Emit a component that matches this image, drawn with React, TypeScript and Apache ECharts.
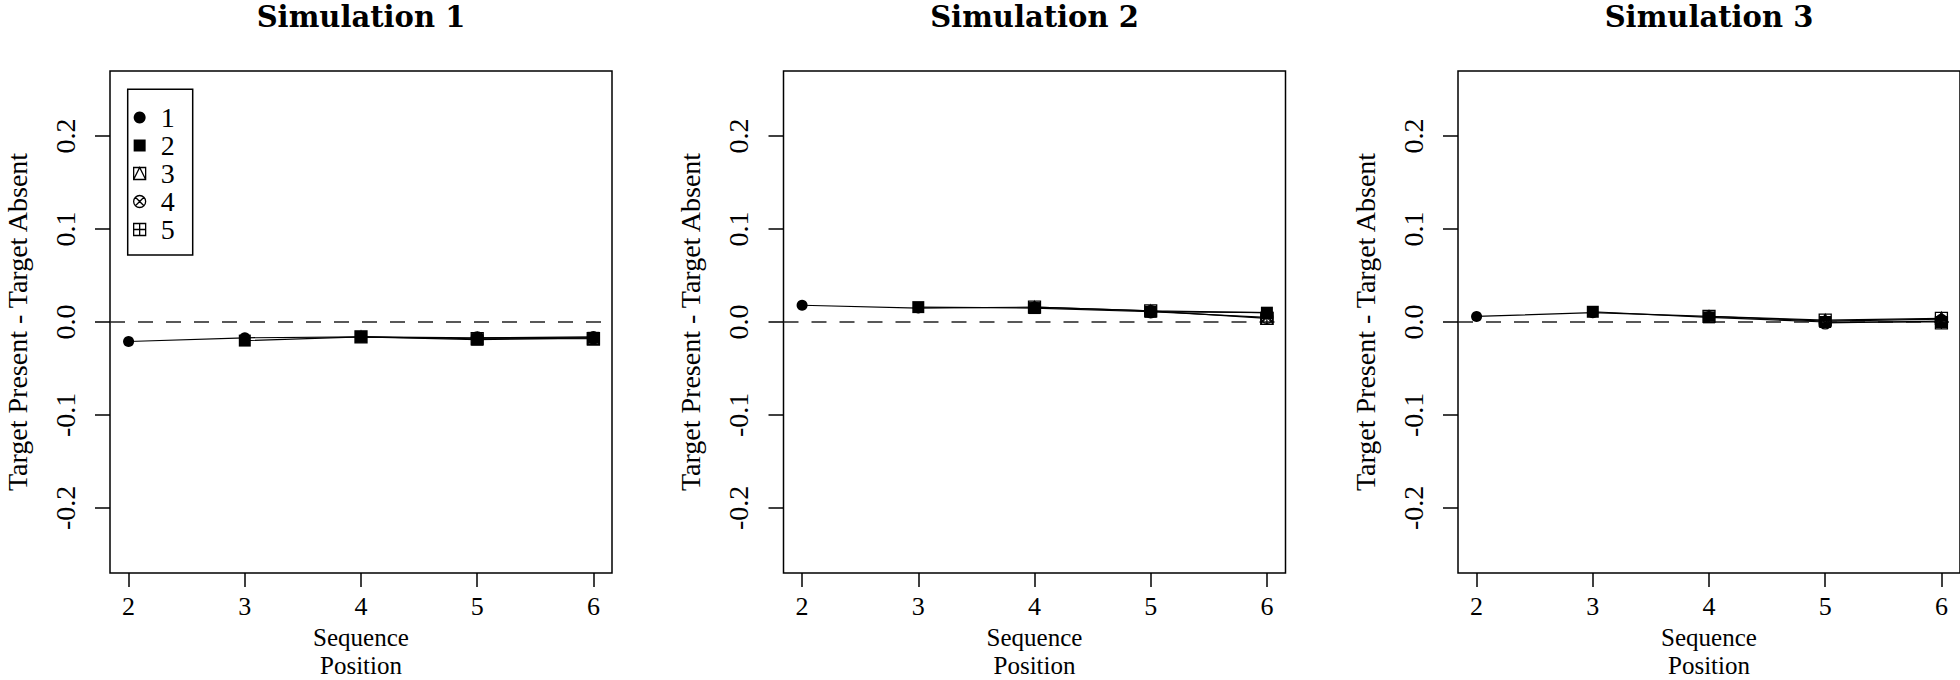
import React, { useEffect, useRef } from "react";
import * as echarts from "echarts";

// ---- data ----
const positions = [2, 3, 4, 5, 6];
const seriesNames = ["1", "2", "3", "4", "5"];
const titles = ["Simulation 1", "Simulation 2", "Simulation 3"];
const yTicks = [-0.2, -0.1, 0.0, 0.1, 0.2];
const xTicks = [2, 3, 4, 5, 6];

// each row: one series (lag), values at positions 2..6 (null = not present)
const sim1 = [
  [-0.021, -0.017, -0.016, -0.017, -0.016],
  [null, -0.02, -0.016, -0.019, -0.017],
  [null, null, -0.016, -0.018, -0.018],
  [null, null, null, -0.017, -0.017],
  [null, null, null, null, -0.018],
];
const sim2 = [
  [0.018, 0.015, 0.016, 0.012, 0.01],
  [null, 0.016, 0.015, 0.011, 0.01],
  [null, null, 0.016, 0.012, 0.004],
  [null, null, null, 0.011, 0.005],
  [null, null, null, null, 0.004],
];
const sim3 = [
  [0.006, 0.01, 0.006, 0.001, 0.003],
  [null, 0.011, 0.005, 0.0, 0.0],
  [null, null, 0.006, 0.002, 0.004],
  [null, null, null, -0.001, 0.001],
  [null, null, null, null, -0.001],
];
const sims = [sim1, sim2, sim3];

// ---- styling ----
const FONT = "Liberation Serif";
const TITLE_FONT = "DejaVu Serif";
const PANEL_LEFTS = [110, 783.5, 1458];
const PANEL_W = 502;
const PANEL_TOP = 71;
const PANEL_H = 502;

const SYMBOLS = [
  "circle",
  "path://M0,0 L12,0 L12,12 L0,12 Z",
  "path://M0,0 L12,0 L12,12 L0,12 Z M0,12 L6,0 L12,12",
  "path://M6,0 A6,6 0 1,1 6,12 A6,6 0 1,1 6,0 Z M1.76,1.76 L10.24,10.24 M10.24,1.76 L1.76,10.24",
  "path://M0,0 L12,0 L12,12 L0,12 Z M6,0 L6,12 M0,6 L12,6",
];
const FILLED = [true, true, false, false, false];

function symbolStyle(i: number) {
  return FILLED[i]
    ? { color: "#000", borderColor: "#000", borderWidth: 0 }
    : { color: "rgba(0,0,0,0)", borderColor: "#000", borderWidth: 1.3 };
}

export default function App() {
  const ref = useRef<HTMLDivElement>(null);

  useEffect(() => {
    if (!ref.current) return;
    const chart = echarts.init(ref.current, null, { renderer: "svg" });

    const grids = PANEL_LEFTS.map((left) => ({
      left,
      top: PANEL_TOP,
      width: PANEL_W,
      height: PANEL_H,
      show: true,
      borderColor: "#000",
      borderWidth: 1.5,
      backgroundColor: "transparent",
      containLabel: false,
      outerBoundsMode: "none",
    }));

    const xAxes = PANEL_LEFTS.map((_, i) => ({
      type: "value",
      gridIndex: i,
      position: "bottom",
      min: 1.84,
      max: 6.16,
      splitLine: { show: false },
      axisLine: { show: false, onZero: false },
      axisTick: {
        show: true,
        inside: false,
        length: 14,
        customValues: xTicks,
        lineStyle: { color: "#000", width: 1.5 },
      },
      axisLabel: {
        show: true,
        customValues: xTicks,
        margin: 20,
        color: "#000",
        fontFamily: FONT,
        fontSize: 26,
        formatter: (v: number) => String(v),
      },
      name: "Sequence\nPosition",
      nameLocation: "middle",
      nameGap: 48,
      nameTextStyle: {
        color: "#000",
        fontFamily: FONT,
        fontSize: 25,
        lineHeight: 28,
        verticalAlign: "top",
      },
    }));

    const yAxes = PANEL_LEFTS.map((_, i) => ({
      type: "value",
      gridIndex: i,
      position: "left",
      min: -0.27,
      max: 0.27,
      splitLine: { show: false },
      axisLine: { show: false, onZero: false },
      axisTick: {
        show: true,
        inside: false,
        length: 15,
        customValues: yTicks,
        lineStyle: { color: "#000", width: 1.5 },
      },
      axisLabel: {
        show: true,
        customValues: yTicks,
        rotate: 90,
        margin: 31,
        color: "#000",
        fontFamily: FONT,
        fontSize: 28,
        formatter: (v: number) => (Math.abs(v) < 1e-9 ? "0.0" : v.toFixed(1)),
      },
      name: "Target Present - Target Absent",
      nameLocation: "middle",
      nameRotate: 90,
      nameGap: 79,
      nameTextStyle: {
        color: "#000",
        fontFamily: FONT,
        fontSize: 28,
      },
    }));

    const series: any[] = [];
    sims.forEach((sim, p) => {
      // zero reference line
      series.push({
        type: "line",
        name: "zero" + p,
        xAxisIndex: p,
        yAxisIndex: p,
        data: [],
        silent: true,
        markLine: {
          silent: true,
          symbol: "none",
          label: { show: false },
          lineStyle: { color: "#222", width: 1.5, type: [15, 13] },
          data: [{ yAxis: 0 }],
        },
      });
      sim.forEach((row, k) => {
        series.push({
          type: "line",
          name: seriesNames[k],
          xAxisIndex: p,
          yAxisIndex: p,
          data: positions.map((x, j) => [x, row[j]]).filter((d) => d[1] !== null),
          symbol: SYMBOLS[k],
          symbolSize: k === 0 ? 11 : 12,
          showAllSymbol: true,
          itemStyle: symbolStyle(k),
          lineStyle: { color: "#000", width: 1.2 },
          z: 3 + k,
        });
      });
    });

    const option: any = {
      animation: false,
      backgroundColor: "#fff",
      title: titles.map((t, i) => ({
        text: t,
        left: PANEL_LEFTS[i] + PANEL_W / 2,
        top: 0,
        textAlign: "center",
        padding: 0,
        textStyle: {
          fontFamily: TITLE_FONT,
          fontWeight: "bold",
          fontSize: 29,
          lineHeight: 34,
          color: "#000",
        },
      })),
      grid: grids,
      xAxis: xAxes,
      yAxis: yAxes,
      graphic: [
        {
          type: "rect",
          shape: { x: 127.7, y: 89.3, width: 65, height: 165.7 },
          style: { fill: "#fff", stroke: "#000", lineWidth: 1.5 },
          z: 10,
          silent: true,
        },
      ],
      legend: {
        show: true,
        orient: "vertical",
        left: 133,
        top: 103.5,
        padding: 0,
        itemWidth: 32,
        itemHeight: 12,
        itemGap: 0,
        symbolKeepAspect: true,
        z: 20,
        selectedMode: false,
        textStyle: {
          fontFamily: FONT,
          fontSize: 28,
          color: "#000",
        },
        data: seriesNames.map((n, i) => ({
          name: n,
          icon: SYMBOLS[i],
          itemStyle: symbolStyle(i),
        })),
      },
      series,
    };

    chart.setOption(option);
    return () => chart.dispose();
  }, []);

  return (
    <div
      ref={ref}
      style={{ position: "fixed", left: 0, top: 0, width: 1960, height: 680 }}
    />
  );
}
